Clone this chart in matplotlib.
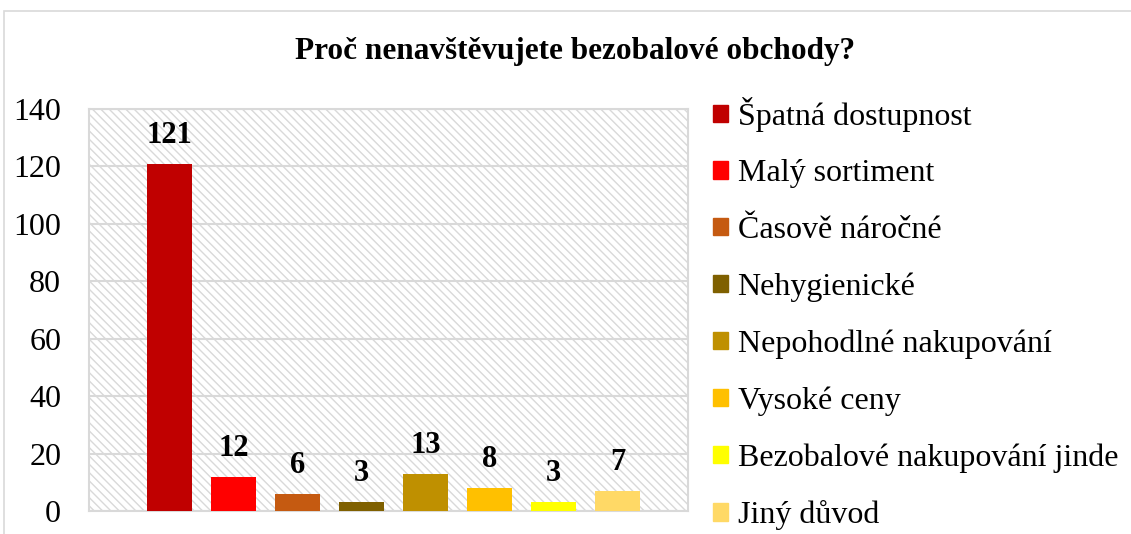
import matplotlib.pyplot as plt
import matplotlib.patches as mpatches

# Data
categories = ['Špatná dostupnost', 'Malý sortiment', 'Časově náročné', 'Nehygienické',
              'Nepohodlné nakupování', 'Vysoké ceny', 'Bezobalové nakupování jinde', 'Jiný důvod']
counts = [121, 12, 6, 3, 13, 8, 3, 7]
colors = ['#C00000', '#FF0000', '#C55A11', '#7F6000', '#BF9000', '#FFC000', '#FFFF00', '#FFD966']
y_ticks = [0, 20, 40, 60, 80, 100, 120, 140]

plt.rcParams['font.family'] = ['Liberation Serif', 'DejaVu Serif']
plt.rcParams['hatch.color'] = '#d9d9d9'
plt.rcParams['hatch.linewidth'] = 1.0

fig = plt.figure(figsize=(11.31, 5.34), dpi=100)

# outer chart border
fig.patches.append(mpatches.Rectangle((4 / 1131, -0.05), 1.1, 1 - 11 / 534 + 0.05,
                                      transform=fig.transFigure, fill=False,
                                      edgecolor='#d9d9d9', linewidth=1.2))

ax = fig.add_axes([89 / 1131, 1 - 511 / 534, (688 - 89) / 1131, (511 - 109) / 534])

# hatched plot area
ax.add_patch(mpatches.Rectangle((0, 0), 1, 1, transform=ax.transAxes, facecolor='white',
                                hatch='\\\\\\\\', edgecolor='#d9d9d9', linewidth=0, zorder=0))

x = list(range(len(counts)))
bars = ax.bar(x, counts, width=0.703, color=colors, zorder=3)
for xi, v in zip(x, counts):
    ax.annotate(str(v), (xi, v), xytext=(0, 10), textcoords='offset points',
                ha='center', va='bottom', fontsize=22, fontweight='bold', zorder=4)

ax.set_xlim(-1.258, 8.10)
ax.set_ylim(0, 140)
ax.set_yticks(y_ticks)
ax.set_xticks([])
ax.tick_params(axis='y', length=0, labelsize=23, pad=20)
ax.grid(axis='y', color='#d9d9d9', linewidth=1.5, zorder=1)
ax.set_axisbelow(True)
for s in ax.spines.values():
    s.set_color('#d9d9d9')
    s.set_linewidth(1.5)

fig.text(575 / 1131, 1 - 51 / 534, 'Proč nenavštěvujete bezobalové obchody?', ha='center', va='center',
         fontsize=22.5, fontweight='bold')

handles = [mpatches.Patch(color=c, label=l) for c, l in zip(colors, categories)]
fig.legend(handles=handles, loc='upper left', bbox_to_anchor=(713 / 1131, 1 - 97 / 534),
           frameon=False, fontsize=23, handlelength=0.47, handleheight=0.47,
           handletextpad=0.3, labelspacing=0.86, borderaxespad=0, borderpad=0)

fig.savefig('out.png', dpi=100)
